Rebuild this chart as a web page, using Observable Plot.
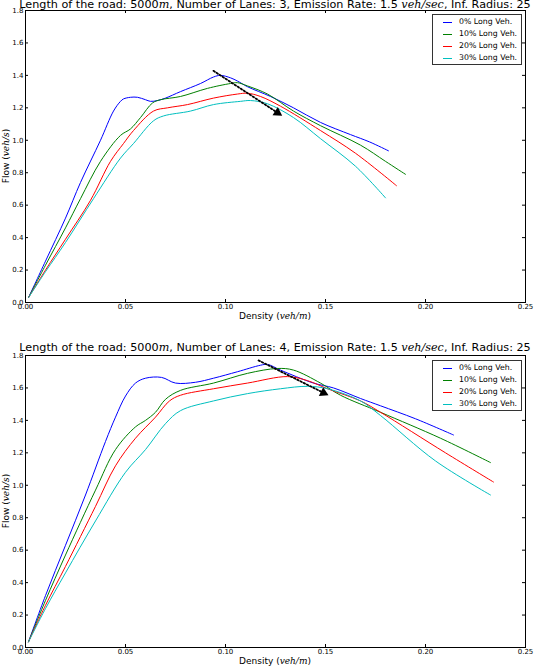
<!DOCTYPE html>
<html><head><meta charset="utf-8">
<script src="https://cdn.jsdelivr.net/npm/d3@7"></script>
<script src="https://cdn.jsdelivr.net/npm/@observablehq/plot@0.6"></script>
<style>
body{margin:0;background:#fff;}
#root{position:relative;width:534px;height:667px;overflow:hidden;font-family:"DejaVu Sans",sans-serif;color:#000;}
#root svg{position:absolute;left:0;}
.title{position:absolute;left:275px;transform:translateX(-50%);font-size:11.2px;line-height:13px;white-space:nowrap;}
.xlab{position:absolute;left:275px;transform:translate(-50%,-50%);font-size:9px;line-height:10px;white-space:nowrap;}
.ylab{position:absolute;left:6px;transform:translate(-50%,-50%) rotate(-90deg);font-size:9px;line-height:10px;white-space:nowrap;}
.m{font-family:"DejaVu Serif",serif;font-style:italic;}
.legend{position:absolute;left:432px;width:90px;height:51px;border:1px solid #333;background:#fff;box-sizing:border-box;}
.row{position:absolute;left:0;height:12px;width:100%;font-size:7.8px;line-height:12px;}
.row .sw{position:absolute;left:10px;top:6px;width:9px;height:0;border-top:1px solid;}
.row .tx{position:absolute;left:26px;top:0;white-space:nowrap;}
</style>
</head><body>
<div id="root"></div>
<script>
// ---------- data ----------
const xTicks = [0, 0.05, 0.10, 0.15, 0.20, 0.25];
const yTicks = [0, 0.2, 0.4, 0.6, 0.8, 1.0, 1.2, 1.4, 1.6, 1.8];
const seriesNames = ["0% Long Veh.", "10% Long Veh.", "20% Long Veh.", "30% Long Veh."];
const seriesColors = ["#0000ff", "#008000", "#ff0000", "#00bfbf"];

// Lanes = 3 : [density, flow]
const lanes3_0 = [[0.0015,0.03],[0.01,0.255],[0.02,0.52],[0.0275,0.74],[0.0375,1.0],[0.044,1.18],[0.0475,1.24],[0.049,1.255],[0.0525,1.265],[0.056,1.265],[0.06,1.25],[0.0625,1.24],[0.066,1.245],[0.07,1.26],[0.0775,1.30],[0.0875,1.35],[0.094,1.39],[0.0975,1.40],[0.1025,1.385],[0.106,1.365],[0.111,1.33],[0.1225,1.27],[0.134,1.20],[0.1475,1.11],[0.1625,1.035],[0.172,0.99],[0.1815,0.935]];
const lanes3_10 = [[0.0015,0.03],[0.01,0.23],[0.02,0.46],[0.0275,0.64],[0.0375,0.87],[0.0475,1.03],[0.0525,1.07],[0.0575,1.14],[0.0635,1.23],[0.0675,1.25],[0.0775,1.27],[0.091,1.32],[0.1025,1.35],[0.106,1.355],[0.111,1.335],[0.121,1.285],[0.134,1.18],[0.1475,1.09],[0.1675,0.97],[0.18,0.87],[0.19,0.79]];
const lanes3_20 = [[0.0015,0.03],[0.01,0.20],[0.02,0.39],[0.0325,0.63],[0.0425,0.87],[0.049,0.98],[0.054,1.06],[0.064,1.18],[0.071,1.20],[0.081,1.22],[0.094,1.26],[0.106,1.285],[0.111,1.29],[0.1175,1.27],[0.1275,1.21],[0.1475,1.06],[0.165,0.92],[0.1855,0.72]];
const lanes3_30 = [[0.0015,0.03],[0.01,0.19],[0.02,0.37],[0.034,0.64],[0.0475,0.89],[0.054,0.98],[0.064,1.12],[0.069,1.15],[0.0825,1.18],[0.094,1.22],[0.1075,1.24],[0.1125,1.245],[0.121,1.225],[0.134,1.14],[0.1475,1.01],[0.165,0.84],[0.18,0.645]];
const lanes3_arrow = [[0.094,1.428],[0.126,1.17]];

// Lanes = 4 : [density, flow]
const lanes4_0 = [[0.0015,0.035],[0.01,0.32],[0.02,0.63],[0.03,0.94],[0.04,1.27],[0.045,1.42],[0.05,1.55],[0.055,1.63],[0.06,1.66],[0.068,1.665],[0.075,1.63],[0.085,1.635],[0.094,1.66],[0.106,1.70],[0.1175,1.74],[0.121,1.745],[0.1275,1.71],[0.144,1.63],[0.154,1.60],[0.1675,1.535],[0.1775,1.49],[0.195,1.41],[0.214,1.31]];
const lanes4_10 = [[0.0015,0.035],[0.01,0.29],[0.02,0.57],[0.035,0.97],[0.045,1.22],[0.055,1.36],[0.06,1.40],[0.065,1.45],[0.07,1.53],[0.0775,1.585],[0.094,1.63],[0.111,1.69],[0.126,1.72],[0.134,1.71],[0.1475,1.63],[0.1575,1.555],[0.1775,1.45],[0.2075,1.29],[0.2325,1.14]];
const lanes4_20 = [[0.0015,0.035],[0.01,0.26],[0.02,0.50],[0.035,0.87],[0.045,1.12],[0.055,1.29],[0.065,1.42],[0.072,1.52],[0.0775,1.555],[0.094,1.595],[0.111,1.63],[0.131,1.67],[0.141,1.645],[0.151,1.595],[0.1675,1.52],[0.1775,1.45],[0.21,1.20],[0.234,1.02]];
const lanes4_30 = [[0.0015,0.035],[0.01,0.24],[0.02,0.46],[0.035,0.78],[0.05,1.08],[0.06,1.22],[0.07,1.38],[0.0775,1.46],[0.094,1.52],[0.111,1.565],[0.1275,1.595],[0.141,1.61],[0.151,1.595],[0.1675,1.52],[0.1775,1.43],[0.205,1.15],[0.2325,0.94]];
const lanes4_arrow = [[0.1165,1.77],[0.149,1.57]];

const titleParts3 = ["Length of the road: 5000", "m", ", Number of Lanes: 3, Emission Rate: 1.5 ", "veh/sec", ", Inf. Radius: 25"];
const titleParts4 = ["Length of the road: 5000", "m", ", Number of Lanes: 4, Emission Rate: 1.5 ", "veh/sec", ", Inf. Radius: 25"];

// ---------- drawing ----------
const W = 534, ML = 25, MR = 9;
const root = document.getElementById("root");

function panel(series, arrowPts, top, H, MT, MB) {
  const pw = W - ML - MR, ph = H - MT - MB;
  const kx = pw / 0.25, ky = ph / 1.8;
  const a0 = arrowPts[0], a1 = arrowPts[1];
  const sdx = (a1[0] - a0[0]) * kx, sdy = -(a1[1] - a0[1]) * ky;
  const ang = Math.atan2(sdx, -sdy) * 180 / Math.PI;
  const marks = [
    Plot.axisX(xTicks, {tickSize: 0, tickPadding: 2, tickFormat: d3.format(".2f"), label: null, fontSize: 7}),
    Plot.axisY(yTicks, {tickSize: 0, tickPadding: 2, tickFormat: d3.format(".1f"), label: null, fontSize: 7}),
    Plot.tickX(xTicks, {x: d => d, insetTop: ph - 3, stroke: "black"}),
    Plot.tickX(xTicks, {x: d => d, insetBottom: ph - 3, stroke: "black"}),
    Plot.tickY(yTicks, {y: d => d, insetRight: pw - 3, stroke: "black"}),
    Plot.tickY(yTicks, {y: d => d, insetLeft: pw - 3, stroke: "black"}),
  ];
  series.forEach((s, i) => {
    marks.push(Plot.line(s, {x: d => d[0], y: d => d[1], stroke: seriesColors[i], strokeWidth: 1, curve: "catmull-rom"}));
  });
  marks.push(Plot.line(arrowPts, {x: d => d[0], y: d => d[1], stroke: "black", strokeWidth: 1.8, strokeDasharray: "1.6,2"}));
  marks.push(Plot.dot([a1], {x: d => d[0], y: d => d[1], symbol: "triangle", r: 3.6, fill: "black", stroke: "none", rotate: ang}));
  marks.push(Plot.frame({stroke: "black", strokeWidth: 1}));
  const svg = Plot.plot({
    width: W, height: H, marginLeft: ML, marginRight: MR, marginTop: MT, marginBottom: MB,
    style: {fontFamily: "DejaVu Sans, sans-serif", fontSize: "7px", background: "transparent", overflow: "visible", color: "black"},
    x: {domain: [0, 0.25]},
    y: {domain: [0, 1.8]},
    marks
  });
  svg.style.top = top + "px";
  root.appendChild(svg);
}

function addTitle(parts, top) {
  const d = document.createElement("div");
  d.className = "title";
  d.style.top = top + "px";
  parts.forEach((p, i) => {
    const s = document.createElement("span");
    if (i % 2 === 1) s.className = "m";
    s.textContent = p;
    d.appendChild(s);
  });
  root.appendChild(d);
}

function addXLabel(cy) {
  const d = document.createElement("div");
  d.className = "xlab";
  d.style.top = cy + "px";
  d.innerHTML = 'Density (<span class="m">veh/m</span>)';
  root.appendChild(d);
}
function addYLabel(cy) {
  const d = document.createElement("div");
  d.className = "ylab";
  d.style.top = cy + "px";
  d.innerHTML = 'Flow (<span class="m">veh/s</span>)';
  root.appendChild(d);
}
function addLegend(top, gap, first) {
  const box = document.createElement("div");
  box.className = "legend";
  box.style.top = top + "px";
  seriesNames.forEach((n, i) => {
    const r = document.createElement("div");
    r.className = "row";
    r.style.top = (first + i * gap - 6) + "px";
    const sw = document.createElement("div");
    sw.className = "sw";
    sw.style.borderTopColor = seriesColors[i];
    const tx = document.createElement("div");
    tx.className = "tx";
    tx.textContent = n;
    r.appendChild(sw); r.appendChild(tx);
    box.appendChild(r);
  });
  root.appendChild(box);
}

panel([lanes3_0, lanes3_10, lanes3_20, lanes3_30], lanes3_arrow, 0, 332, 10, 30);
panel([lanes4_0, lanes4_10, lanes4_20, lanes4_30], lanes4_arrow, 332, 335, 23, 20);

addTitle(titleParts3, -2);
addTitle(titleParts4, 341);
addXLabel(316);
addXLabel(661);
addYLabel(156);
addYLabel(501);
addLegend(14, 12, 6.5);
addLegend(360, 12, 6.5);
</script>
</body></html>
